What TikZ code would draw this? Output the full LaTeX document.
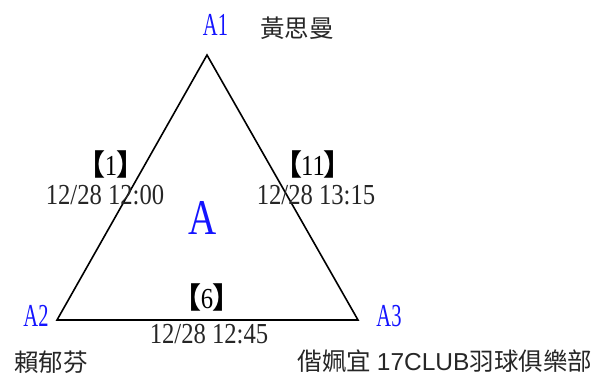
\documentclass[tikz,border=0pt]{standalone}
\usepackage{fontspec}
\setmainfont{Liberation Serif}
\newfontfamily\vfont[FakeStretch=0.64]{Liberation Serif}
\newfontfamily\tfont[FakeStretch=0.85]{Liberation Serif}
\newfontfamily\bfont[FakeStretch=0.78]{Liberation Serif}
\newfontfamily\cjk{Noto Sans CJK TC}
\newfontfamily\lsans{Liberation Sans}
\definecolor{vblue}{RGB}{20,20,255}
\tikzset{
  vlabel/.style={inner sep=0pt, text=vblue, font=\vfont\fontsize{32}{32}\selectfont},
  biglabel/.style={inner sep=0pt, text=vblue, font=\bfont\fontsize{50}{50}\selectfont},
  person/.style={inner sep=0pt, text=black!85, font=\cjk\fontsize{24.5}{24.5}\selectfont},
  seq/.style={inner sep=0pt, font=\tfont\fontsize{29}{29}\selectfont},
  when/.style={inner sep=0pt, text=black!85, font=\tfont\fontsize{29}{29}\selectfont},
  edge/.style={line width=1.6pt, line join=miter}
}
\newcommand{\lb}{{\cjk\bfseries\fontsize{29}{29}\selectfont 【}\kern-1pt}
\newcommand{\rb}{\kern-1pt{\cjk\bfseries\fontsize{29}{29}\selectfont 】}}
\begin{document}
\begin{tikzpicture}[x=1pt,y=-1pt]
\useasboundingbox (0,0) rectangle (595,376);
\coordinate (v1) at (207,55);
\coordinate (v2) at (57,320);
\coordinate (v3) at (358,320);
\draw[edge] (v1) -- (v2) -- (v3) -- cycle;
\node[vlabel] (a1) at (215.5,25) {A1};
\node[person] (n1) at (297,28) {黃思曼};
\node[vlabel] (a2) at (36,316) {A2};
\node[vlabel] (a3) at (389,316) {A3};
\node[person] (n2) at (51,362) {賴郁芬};
\node[person] (n3) at (445,361) {偕姵宜 {\lsans 17CLUB}羽球俱樂部};
\node[biglabel] (a) at (203,218) {A};
\node[seq] (s1) at (111,164) {\lb1\rb};
\node[when] (t1) at (105,195) {12/28 12:00};
\node[seq] (s11) at (313,164) {\lb11\rb};
\node[when] (t11) at (316,195) {12/28 13:15};
\node[seq] (s6) at (207,297) {\lb6\rb};
\node[when] (t6) at (209,334) {12/28 12:45};
\end{tikzpicture}
\end{document}
